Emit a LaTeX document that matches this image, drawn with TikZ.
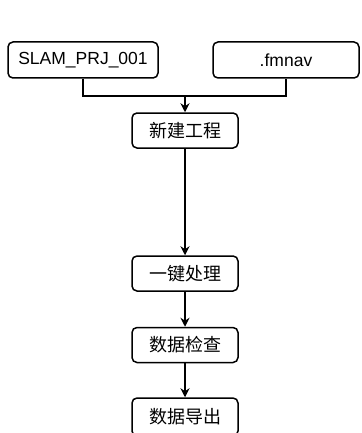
\documentclass[tikz,border=0pt]{standalone}
\usepackage{fontspec}
\setmainfont{Liberation Sans}
\newfontfamily\cjk{Noto Sans CJK SC}
\usetikzlibrary{arrows.meta}
\begin{document}
\begin{tikzpicture}[x=1pt,y=-1pt,
  box/.style={draw=black,line width=1.5pt,rounded corners=5pt,fill=white,inner sep=0pt,
    font=\fontsize{17.5}{20}\selectfont},
  inbox/.style={box,minimum height=36pt},
  procbox/.style={box,minimum width=106pt,minimum height=35pt,font=\cjk\fontsize{18}{20}\selectfont},
  line/.style={line width=1.5pt,draw=black},
  arr/.style={line,-{Stealth[length=9pt,width=9pt]}}]
\useasboundingbox (0,0) rectangle (361,433);
\node[inbox,minimum width=150pt] (slam) at (83,60) {SLAM\_PRJ\_001};
\node[inbox,minimum width=146pt] (fmnav) at (286,60) {.fmnav};
\node[procbox] (new) at (185,130.5) {新建工程};
\node[procbox] (proc) at (185,273.5) {一键处理};
\node[procbox] (check) at (185,345) {数据检查};
\node[procbox,minimum height=38pt] (export) at (185,417) {数据导出};
\coordinate (j) at (185,96);
\draw[line] (slam.south) |- (j) -| (fmnav.south);
\draw[arr] (j) -- (new.north);
\draw[arr] (new.south) -- (proc.north);
\draw[arr] (proc.south) -- (check.north);
\draw[arr] (check.south) -- (export.north);
\end{tikzpicture}
\end{document}
